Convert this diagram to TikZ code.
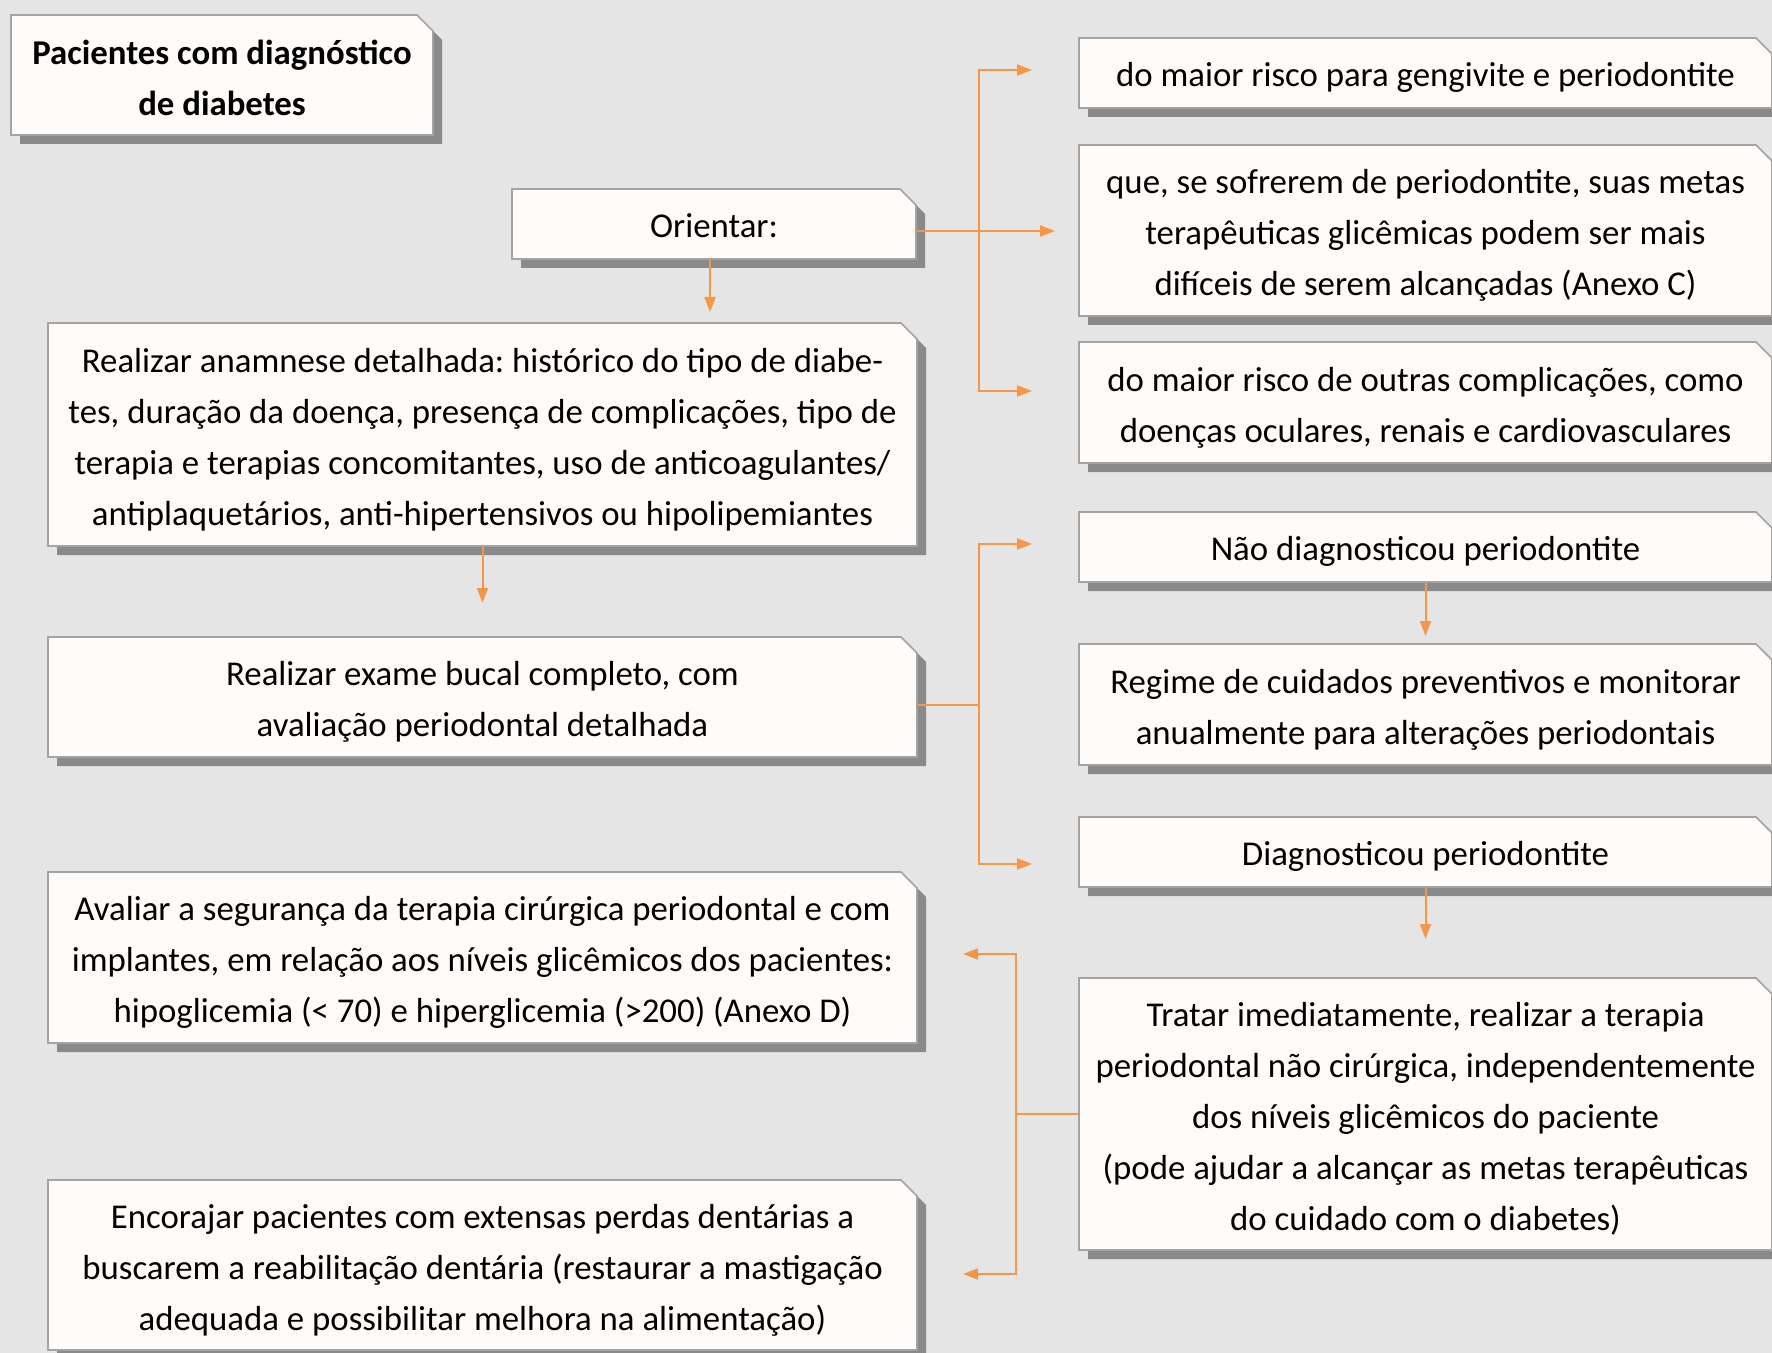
\documentclass[tikz,border=0pt]{standalone}
\usepackage{fontspec}
\setmainfont{Carlito}
\usetikzlibrary{shapes.misc,shadows,arrows.meta}
\definecolor{bgc}{HTML}{E5E5E5}
\definecolor{boxfill}{HTML}{FEFBF8}
\definecolor{boxline}{HTML}{A3A3A3}
\definecolor{shadowc}{HTML}{8A8A8A}
\definecolor{orangec}{HTML}{F79646}
\frenchspacing
\begin{document}
\begin{tikzpicture}[x=0.5pt,y=-0.5pt,
  box/.style={chamfered rectangle, chamfered rectangle corners=north east,
    chamfered rectangle xsep=4pt, chamfered rectangle ysep=4pt,
    draw=boxline, line width=0.8pt, fill=boxfill, inner sep=0pt,
    general shadow={fill=shadowc, shadow xshift=4.5pt, shadow yshift=-4.5pt},
    execute at begin node={\phantom{\rule{24pt}{24pt}}}},
  txt/.style={align=center, inner sep=0pt, font=\fontsize{17.4}{25.5}\selectfont,
    execute at begin node={\rule{0pt}{17.5pt}},
    execute at end node={\rule[-3.7pt]{0pt}{0pt}}},
  mtxt/.style={txt, yshift=-3pt},
  leftbox/.style={box, minimum width=434.5pt},
  rightbox/.style={box, minimum width=346.5pt},
  ln/.style={draw=orangec, line width=1pt},
  arr/.style={ln, -{Triangle[length=7.5pt,width=5.5pt]}}]
\useasboundingbox (0,0) rectangle (1772,1353);
\clip (0,0) rectangle (1772,1353);
\fill[bgc] (0,0) rectangle (1772,1353);

% boxes, left column
\node[box, minimum width=211pt, minimum height=60pt] (title) at (222,75) {};
\node[box, minimum width=202pt, minimum height=35pt] (orientar) at (714,224) {};
\node[leftbox, minimum height=111.5pt] (anam) at (482.5,434.5) {};
\node[leftbox, minimum height=60pt] (exame) at (482.5,697) {};
\node[leftbox, minimum height=85.5pt] (aval) at (482.5,957.5) {};
\node[leftbox, minimum height=85pt] (enc) at (482.5,1265) {};
% boxes, right column
\node[rightbox, minimum height=35pt] (r1) at (1425.5,73) {};
\node[rightbox, minimum height=85.5pt] (r2) at (1425.5,230.5) {};
\node[rightbox, minimum height=60.5pt] (r3) at (1425.5,402.5) {};
\node[rightbox, minimum height=35pt] (nao) at (1425.5,547) {};
\node[rightbox, minimum height=60.5pt] (regime) at (1425.5,704.5) {};
\node[rightbox, minimum height=35pt] (diag) at (1425.5,852) {};
\node[rightbox, minimum height=136pt] (tratar) at (1425.5,1114) {};

% texts
\node[mtxt] (title-t) at (title.center)
  {\bfseries Pacientes com diagnóstico\\\bfseries de diabetes};
\node[txt] (orientar-t) at (orientar.center) {Orientar:};
\node[mtxt] (anam-t) at (anam.center)
  {Realizar anamnese detalhada: histórico do tipo de diabe-\\
   tes, duração da doença, presença de complicações, tipo de\\
   terapia e terapias concomitantes, uso de anticoagulantes/\\
   antiplaquetários, anti-hipertensivos ou hipolipemiantes};
\node[mtxt] (exame-t) at (exame.center)
  {Realizar exame bucal completo, com\\avaliação periodontal detalhada};
\node[mtxt] (aval-t) at (aval.center)
  {Avaliar a segurança da terapia cirúrgica periodontal e com\\
   implantes, em relação aos níveis glicêmicos dos pacientes:\\
   hipoglicemia (< 70) e hiperglicemia (>200) (Anexo D)};
\node[mtxt] (enc-t) at (enc.center)
  {Encorajar pacientes com extensas perdas dentárias a\\
   buscarem a reabilitação dentária (restaurar a mastigação\\
   adequada e possibilitar melhora na alimentação)};
\node[txt] (r1-t) at (r1.center)
  {do maior risco para gengivite e periodontite};
\node[mtxt] (r2-t) at (r2.center)
  {que, se sofrerem de periodontite, suas metas\\
   terapêuticas glicêmicas podem ser mais\\
   difíceis de serem alcançadas (Anexo C)};
\node[mtxt] (r3-t) at (r3.center)
  {do maior risco de outras complicações, como\\
   doenças oculares, renais e cardiovasculares};
\node[txt] (nao-t) at (nao.center)
  {Não diagnosticou periodontite};
\node[mtxt] (regime-t) at (regime.center)
  {Regime de cuidados preventivos e monitorar\\
   anualmente para alterações periodontais};
\node[txt] (diag-t) at (diag.center)
  {Diagnosticou periodontite};
\node[mtxt] (tratar-t) at (tratar.center)
  {Tratar imediatamente, realizar a terapia\\
   periodontal não cirúrgica, independentemente\\
   dos níveis glicêmicos do paciente\\
   (pode ajudar a alcançar as metas terapêuticas\\
   do cuidado com o diabetes)};

% connector points
\coordinate (j1) at (979,231);
\coordinate (tR1) at (1032,70);
\coordinate (tR2) at (1055,231);
\coordinate (tR3) at (1032,391);
\coordinate (j2) at (979,705);
\coordinate (tNao) at (1032,544);
\coordinate (tDiag) at (1032,864);
\coordinate (j3) at (1016,1114);
\coordinate (tAval) at (963,954);
\coordinate (tEnc) at (963,1274);
\coordinate (tOr) at (710,312);

% connectors
\draw[arr] (orientar.south -| tOr) -- (tOr);
\draw[arr] (orientar.east |- j1) -- (tR2);
\draw[arr] (j1) |- (tR1);
\draw[arr] (j1) |- (tR3);
\draw[arr] (anam.south) -- (anam.south |- 0,603);
\draw[ln] (exame.east |- j2) -- (j2);
\draw[arr] (j2) |- (tNao);
\draw[arr] (j2) |- (tDiag);
\draw[arr] (nao.south) -- (nao.south |- 0,636);
\draw[arr] (diag.south) -- (diag.south |- 0,939);
\draw[ln] (tratar.west) -- (j3);
\draw[arr] (j3) |- (tAval);
\draw[arr] (j3) |- (tEnc);
\end{tikzpicture}
\end{document}
